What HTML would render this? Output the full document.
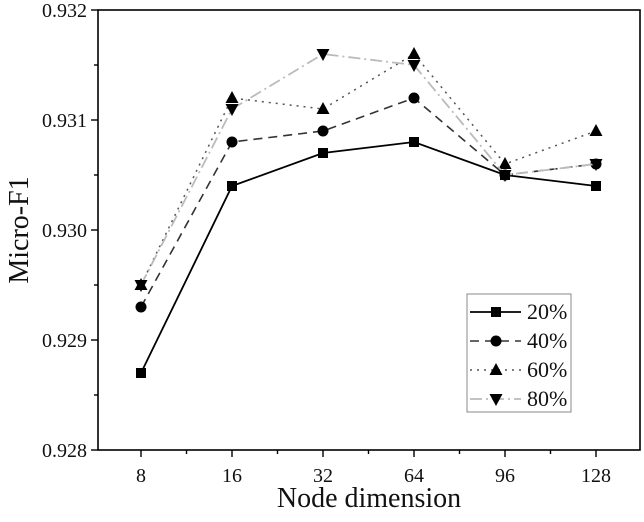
<!DOCTYPE html>
<html><head><meta charset="utf-8"><style>
body{margin:0;background:#fff}
svg text{font-family:"Liberation Serif",serif;fill:#111}
</style></head><body>
<svg id="c" width="644" height="517" xmlns="http://www.w3.org/2000/svg"></svg>
<script>
const categories=["8","16","32","64","96","128"];
const s20=[0.9287,0.9304,0.9307,0.9308,0.9305,0.9304];
const s40=[0.9293,0.9308,0.9309,0.9312,0.9305,0.9306];
const s60=[0.9295,0.9312,0.9311,0.9316,0.9306,0.9309];
const s80=[0.9295,0.9311,0.9316,0.9315,0.9305,0.9306];
const yTicks=["0.928","0.929","0.930","0.931","0.932"];
const seriesNames=["20%","40%","60%","80%"];

const NS="http://www.w3.org/2000/svg";
const svg=document.getElementById('c');
const L=98,R=640,T=10,B=450;
const yMin=0.928,yMax=0.932;
function x(i){return 141+i*91;}
function y(v){return B-(v-yMin)/(yMax-yMin)*(B-T);}
function mk(tag,a,p){const e=document.createElementNS(NS,tag);for(const k in a)e.setAttribute(k,a[k]);(p||svg).appendChild(e);return e;}

const frame=mk('rect',{x:L,y:T,width:R-L,height:B-T,fill:'none',stroke:'#000','stroke-width':1.6});



yTicks.forEach((t,i)=>{
  const v=parseFloat(t);const yy=y(v);
  const tk=mk('line',{x1:L-7,x2:L,y1:yy,y2:yy,stroke:'#000','stroke-width':1.4});
  
  
  if(i<yTicks.length-1){const m=y(v+0.0005);mk('line',{x1:L-4,x2:L,y1:m,y2:m,stroke:'#000','stroke-width':1.4});}
  const tx=mk('text',{x:L-11,y:yy+7,'text-anchor':'end','font-size':20});
  tx.textContent=t;
  
  
});
categories.forEach((c,i)=>{
  const xx=x(i);
  const tk=mk('line',{x1:xx,x2:xx,y1:B,y2:B+7,stroke:'#000','stroke-width':1.4});
  
  
  if(i<categories.length-1){mk('line',{x1:xx+45.5,x2:xx+45.5,y1:B,y2:B+4,stroke:'#000','stroke-width':1.4});}
  const tx=mk('text',{x:xx,y:B+32,'text-anchor':'middle','font-size':20});
  tx.textContent=c;
  
  
});
const xt=mk('text',{x:369,y:507,'text-anchor':'middle','font-size':28});
xt.textContent='Node dimension';


const yt=mk('text',{x:0,y:0,'text-anchor':'middle','font-size':28,transform:'translate(28,230) rotate(-90)'});
yt.textContent='Micro-F1';



const styles=[
 {c:'#000',d:'',w:1.8,m:'sq'},
 {c:'#333',d:'9,6',w:1.6,m:'ci'},
 {c:'#555',d:'2,5',w:1.5,m:'up'},
 {c:'#bbb',d:'12,4,2,4',w:1.8,m:'dn'}];
function marker(type,cx,cy,p){
  if(type==='sq')return mk('rect',{x:cx-5,y:cy-5,width:10,height:10,fill:'#000'},p);
  if(type==='ci')return mk('circle',{cx:cx,cy:cy,r:5.5,fill:'#000'},p);
  if(type==='up')return mk('polygon',{points:`${cx},${cy-7} ${cx+6.5},${cy+5} ${cx-6.5},${cy+5}`,fill:'#000'},p);
  return mk('polygon',{points:`${cx},${cy+7} ${cx+6.5},${cy-5} ${cx-6.5},${cy-5}`,fill:'#000'},p);
}
[s20,s40,s60,s80].forEach((s,k)=>{
  const st=styles[k];
  const g=mk('g',{});
  
  
  const pl=mk('polyline',{points:s.map((v,i)=>x(i)+','+y(v)).join(' '),fill:'none',stroke:st.c,'stroke-width':st.w,'stroke-dasharray':st.d},g);
  
  
  s.forEach((v,i)=>{const m=marker(st.m,x(i),y(v),g);
    
    });
});

const lg=mk('g',{});


mk('rect',{x:467,y:294,width:104,height:118,fill:'#fff',stroke:'#888','stroke-width':1},lg);
seriesNames.forEach((n,k)=>{
  const st=styles[k];const yy=312+k*29;
  const e=mk('g',{},lg);
  
  
  mk('line',{x1:470,x2:521,y1:yy,y2:yy,stroke:st.c,'stroke-width':st.w,'stroke-dasharray':st.d},e);
  marker(st.m,496,yy,e);
  const t=mk('text',{x:527,y:yy+7,'font-size':22},e);
  t.textContent=n;
});
</script>
</body></html>
